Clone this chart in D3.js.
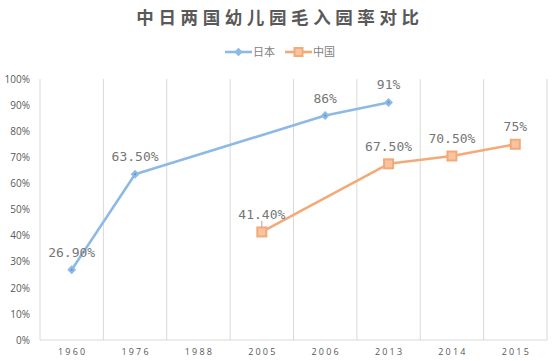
<!DOCTYPE html>
<html><head><meta charset="utf-8">
<script src="https://cdn.jsdelivr.net/npm/d3@7"></script>
<style>body{margin:0;background:#fff;}svg{display:block;}</style>
</head><body>
<svg id="c" width="559" height="361"></svg>
<script>
const categories = ["1960","1976","1988","2005","2006","2013","2014","2015"];
const japan = [0.269, 0.635, null, null, 0.86, 0.91, null, null];
const china = [null, null, null, 0.414, null, 0.675, 0.705, 0.75];
const japanLabels = ["26.90%","63.50%",null,null,"86%","91%",null,null];
const chinaLabels = [null,null,null,"41.40%",null,"67.50%","70.50%","75%"];
const yTicks = [0,0.1,0.2,0.3,0.4,0.5,0.6,0.7,0.8,0.9,1.0];
const title = "中日两国幼儿园毛入园率对比";
const seriesNames = ["日本","中国"];

const blue = "#8DBAE5", orange = "#F4AA78", grey = "#595959", grid = "#D9D9D9";
const svg = d3.select("#c");
const x = d3.scaleBand().domain(categories).range([40, 547]).padding(0);
const y = d3.scaleLinear().domain([0, 1]).range([340, 79]);

svg.append("text").attr("x", 280).attr("y", 24).attr("text-anchor", "middle")
  .attr("font-family", "Noto Sans CJK SC").attr("font-weight", "bold")
  .attr("font-size", 17.5).attr("letter-spacing", 4.6).attr("fill", grey).text(title);

// gridlines at band boundaries
const bounds = categories.map(c => x(c)).concat([x.range()[1]]);
svg.append("g").selectAll("line").data(bounds).join("line")
  .attr("x1", d => d).attr("x2", d => d).attr("y1", y(1)).attr("y2", y(0))
  .attr("stroke", grid).attr("stroke-width", 1);
svg.append("line").attr("x1", 40).attr("x2", 547).attr("y1", y(0)).attr("y2", y(0))
  .attr("stroke", grid).attr("stroke-width", 1);

// y axis
const ya = svg.append("g").attr("transform", "translate(30,0)")
  .call(d3.axisLeft(y).tickValues(yTicks).tickSize(0).tickPadding(0).tickFormat(d3.format(".0%")));
ya.select(".domain").remove();
ya.selectAll("text").attr("font-family", "Open Sans").attr("font-size", 10).attr("fill", grey);

// x axis
const xa = svg.append("g").attr("transform", `translate(0,${y(0)})`)
  .call(d3.axisBottom(x).tickSize(0).tickPadding(9));
xa.select(".domain").remove();
xa.selectAll("text").attr("font-family", "Open Sans").attr("font-size", 9)
  .attr("letter-spacing", 2.2).attr("fill", grey).attr("dx", 1);

function series(vals, labels, color, marker) {
  const pts = categories.map((c, i) => ({c, v: vals[i], l: labels[i]})).filter(d => d.v != null);
  const line = d3.line().x(d => x(d.c) + x.bandwidth() / 2).y(d => y(d.v));
  svg.append("path").datum(pts).attr("d", line).attr("fill", "none")
    .attr("stroke", color).attr("stroke-width", 2.6).attr("stroke-linejoin", "round");
  const g = svg.append("g");
  pts.forEach(d => {
    const cx = x(d.c) + x.bandwidth() / 2, cy = y(d.v);
    if (marker === "diamond") {
      g.append("path").attr("d", d3.symbol(d3.symbolDiamond2, 50)()).attr("transform", `translate(${cx},${cy})`)
        .attr("fill", color);
      g.append("circle").attr("cx", cx).attr("cy", cy).attr("r", 1).attr("fill", "#5A8FC8");
    } else {
      g.append("rect").attr("x", cx - 4.5).attr("y", cy - 4.5).attr("width", 9).attr("height", 9)
        .attr("fill", "#F7C3A0").attr("stroke", color).attr("stroke-width", 2);
    }
    g.append("text").attr("x", cx).attr("y", cy - 13).attr("text-anchor", "middle")
      .attr("font-family", "DejaVu Sans Mono").attr("font-size", 13).attr("fill", "#767676").text(d.l);
  });
}
series(japan, japanLabels, blue, "diamond");
series(china, chinaLabels, orange, "square");

// leader line for 41.40%
svg.append("line").attr("x1", x("2005") + x.bandwidth()/2).attr("x2", x("2005") + x.bandwidth()/2)
  .attr("y1", y(0.414) - 11).attr("y2", y(0.414) - 5).attr("stroke", "#A6A6A6").attr("stroke-width", 1);

// legend
const lg = svg.append("g");
const items = [{n: seriesNames[0], c: blue, m: "diamond", x: 225}, {n: seriesNames[1], c: orange, m: "square", x: 285}];
items.forEach(it => {
  lg.append("line").attr("x1", it.x).attr("x2", it.x + 27).attr("y1", 52).attr("y2", 52)
    .attr("stroke", it.c).attr("stroke-width", 2.6);
  if (it.m === "diamond") {
    lg.append("path").attr("d", d3.symbol(d3.symbolDiamond2, 45)()).attr("transform", `translate(${it.x+13.5},52)`).attr("fill", it.c);
  } else {
    lg.append("rect").attr("x", it.x + 9.5).attr("y", 48).attr("width", 8).attr("height", 8)
      .attr("fill", "#F7C3A0").attr("stroke", it.c).attr("stroke-width", 2);
  }
  lg.append("text").attr("x", it.x + 28).attr("y", 56).attr("font-family", "Noto Sans CJK SC")
    .attr("font-size", 11).attr("fill", "#7F7F7F").text(it.n);
});
</script>
</body></html>
